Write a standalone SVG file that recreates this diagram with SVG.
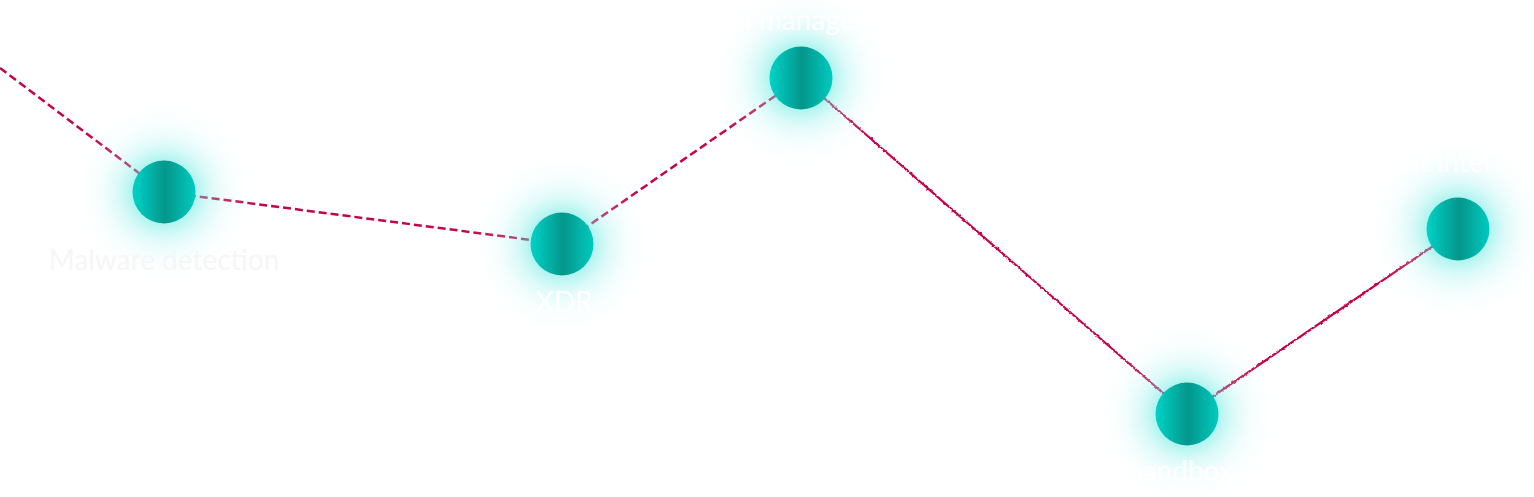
<svg xmlns="http://www.w3.org/2000/svg" width="1534" height="497" viewBox="0 0 1534 497">
<defs>
<linearGradient id="ball" x1="0" y1="0" x2="1" y2="0">
<stop offset="0" stop-color="#00d3c7"/>
<stop offset="0.52" stop-color="#04968b"/>
<stop offset="1" stop-color="#00cbc0"/>
</linearGradient>
<radialGradient id="glow" cx="0.5" cy="0.5" r="0.5">
<stop offset="0.33" stop-color="#5fe8e0" stop-opacity="0.5"/>
<stop offset="0.5" stop-color="#8ef0eb" stop-opacity="0.3"/>
<stop offset="0.72" stop-color="#c8f8f5" stop-opacity="0.13"/>
<stop offset="1" stop-color="#ffffff" stop-opacity="0"/>
</radialGradient>
<filter id="wobble" x="-5%" y="-5%" width="110%" height="110%">
<feTurbulence type="fractalNoise" baseFrequency="0.35" numOctaves="1" seed="3" result="n"/>
<feDisplacementMap in="SourceGraphic" in2="n" scale="3" xChannelSelector="R" yChannelSelector="G"/>
</filter>
</defs>
<style>
.dash{fill:none;stroke:#c4034b;stroke-width:2.5;stroke-dasharray:8 4}
.wavy{fill:none;stroke:#c4034b;stroke-width:2.2;filter:url(#wobble)}
.glow{fill:url(#glow)}
.ball{fill:url(#ball)}
.lbl{font-family:Lato,"Open Sans",sans-serif;font-size:28px;fill:#ffffff;text-anchor:middle}
.lbl.grey{fill:#f6f6f6}
</style>
<rect width="1534" height="497" fill="#ffffff"/>
<g id="connectors">
<line class="dash" x1="0" y1="68" x2="164" y2="192"/>
<line class="dash" x1="164" y1="192" x2="562" y2="244"/>
<line class="dash" x1="562" y1="244" x2="801" y2="78"/>
<path class="wavy" d="M801 78 L1187 414"/>
<path class="wavy" d="M1187 414 L1458 229"/>
</g>
<g id="node-malware">
<circle class="glow" cx="164" cy="192" r="95"/>
<circle class="ball" cx="164" cy="192" r="31.5"/>
<text class="lbl grey" x="164" y="270">Malware detection</text>
</g>
<g id="node-xdr">
<circle class="glow" cx="562" cy="244" r="95"/>
<circle class="ball" cx="562" cy="244" r="31.5"/>
<text class="lbl" x="564" y="312">XDR</text>
</g>
<g id="node-management">
<circle class="glow" cx="801" cy="78" r="95"/>
<circle class="ball" cx="801" cy="78" r="31.5"/>
<text class="lbl" x="800" y="30">Patch management</text>
</g>
<g id="node-sandbox">
<circle class="glow" cx="1187" cy="414" r="95"/>
<circle class="ball" cx="1187" cy="414" r="31.5"/>
<text class="lbl" x="1180" y="481">Sandbox</text>
</g>
<g id="node-intel">
<circle class="glow" cx="1458" cy="229" r="95"/>
<circle class="ball" cx="1458" cy="229" r="31.5"/>
<text class="lbl" x="1490" y="172" style="text-anchor:end">Threat intel</text>
</g>
</svg>
